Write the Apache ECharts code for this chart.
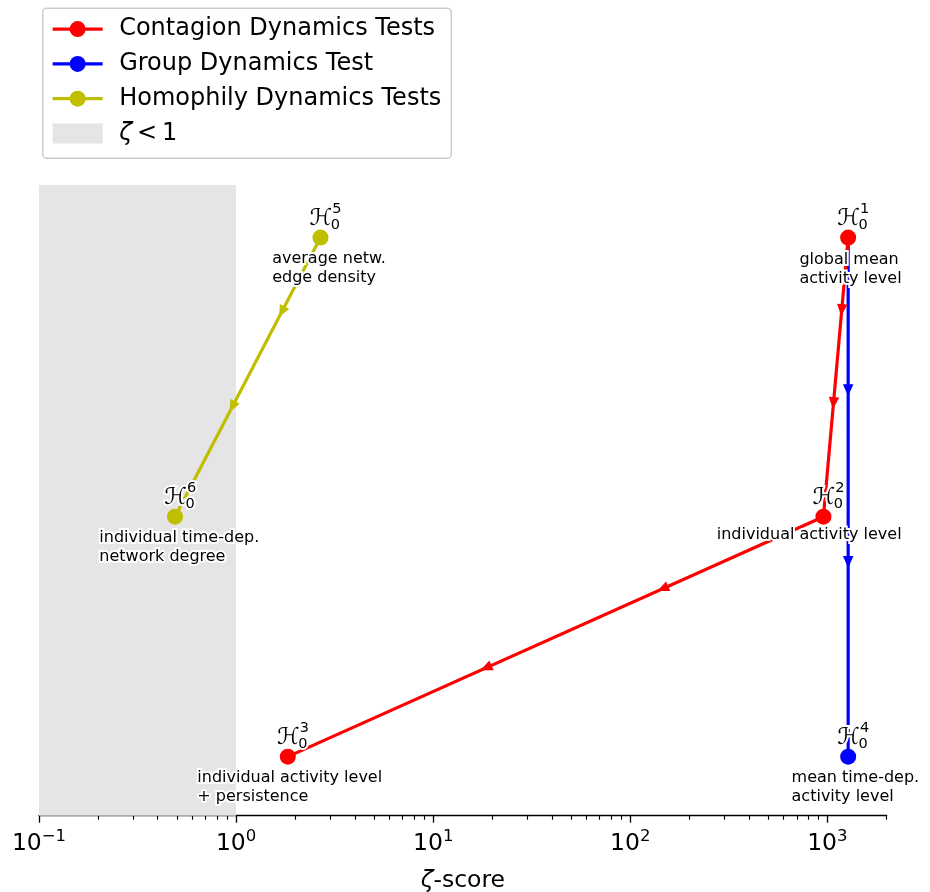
<!DOCTYPE html>
<html><head><meta charset="utf-8">
<script src="https://cdn.jsdelivr.net/npm/echarts@6/dist/echarts.min.js"></script>
<style>html,body{margin:0;padding:0;background:#fff}#c{width:930px;height:892px}</style>
</head><body><div id="c"></div>
<script>
// ---------------- data ----------------
const hypothesisNumbers = [1, 2, 3, 4, 5, 6];
const zetaScores = [1275, 955, 1.83, 1275, 2.68, 0.49];
const levels = [2.163, 1.0, 0.0, 0.0, 2.163, 1.0];
const descriptions = [
  'global mean\nactivity level',
  'individual activity level',
  'individual activity level\n+ persistence',
  'mean time-dep.\nactivity level',
  'average netw.\nedge density',
  'individual time-dep.\nnetwork degree'
];
const contagionPath = [0, 1, 2];
const groupPath = [0, 3];
const homophilyPath = [4, 5];
const seriesNames = ['Contagion Dynamics Tests', 'Group Dynamics Test', 'Homophily Dynamics Tests'];
const thresholdName = 'ζ < 1';
const thresholdRange = [0.1, 1];
const xRange = [0.1, 2000];
const majorTickValues = [0.1, 1, 10, 100, 1000];
const minorTickValues = [0.2, 0.3, 0.4, 0.5, 0.6, 0.7, 0.8, 0.9,
  2, 3, 4, 5, 6, 7, 8, 9, 20, 30, 40, 50, 60, 70, 80, 90,
  200, 300, 400, 500, 600, 700, 800, 900, 2000];

// ---------------- layout / style ----------------
const COLORS = ['#ff0000', '#0000ff', '#bfbf00'];
const SHADE = '#e5e5e5';
const FONT = 'DejaVu Sans';
const pointColorIdx = [0, 0, 0, 1, 2, 2];
// description label offsets (px) from point: [left, first-line centre]
const descOffsets = [[-48.7, 22.5], [-106.7, 18.3], [-90.5, 21.6], [-56.6, 21.6], [-48.3, 21.7], [-75.7, 21.6]];
// arrow positions as fraction along each segment of each path
const arrowFractions = [[[0.26, 0.593], [0.30, 0.63]], [[0.294, 0.625]], [[0.266, 0.606]]];
const paths = [contagionPath, groupPath, homophilyPath];

// ---------------- build ----------------
const arrowData = [];
paths.forEach((path, pi) => {
  for (let s = 0; s < path.length - 1; s++) {
    const a = path[s], b = path[s + 1];
    arrowFractions[pi][s].forEach(t => {
      arrowData.push([zetaScores[a], levels[a], zetaScores[b], levels[b], t, pi]);
    });
  }
});
const labelData = hypothesisNumbers.map((n, i) => [zetaScores[i], levels[i], i]);

function lineSeries(pi, z) {
  const path = paths[pi];
  return {
    name: seriesNames[pi], type: 'line', z: z,
    data: path.map((i, k) => {
      const item = { value: [zetaScores[i], levels[i]] };
      if (pointColorIdx[i] !== pi) item.symbol = 'none';
      return item;
    }),
    symbol: 'circle', symbolSize: 16, showSymbol: true,
    lineStyle: { width: 3.2, color: COLORS[pi] },
    itemStyle: { color: COLORS[pi] },
    emphasis: { disabled: true }, silent: true, clip: false
  };
}

const haloStyle = { stroke: '#fff', lineWidth: 4, fill: '#000' };

const option = {
  animation: false,
  grid: { left: 39, right: 43.3, top: 185, bottom: 76.3, outerBoundsMode: 'none', containLabel: false },
  legend: {
    orient: 'vertical', left: 42.7, top: 8.3, padding: [8.8, 10, 12.7, 8.3],
    itemWidth: 50, itemHeight: 20, itemGap: 10.8,
    borderColor: '#cccccc', borderWidth: 1.5, borderRadius: 4,
    backgroundColor: 'rgba(255,255,255,0.8)',
    selectedMode: false,
    lineStyle: { width: 3.3 },
    textStyle: { fontFamily: FONT, fontSize: 24, color: '#000', padding: [0, 0, 0, 11.5],
      rich: { i: { fontFamily: FONT, fontSize: 24, fontStyle: 'italic', color: '#000' } } },
    data: seriesNames.concat([{ name: thresholdName, icon: 'rect', itemStyle: { color: SHADE, borderWidth: 0 } }]),
    formatter: n => n === thresholdName ? '{i|ζ}\u2009<\u20091' : n
  },
  xAxis: [{
    type: 'log', logBase: 10, min: xRange[0], max: xRange[1], position: 'bottom',
    name: '{i|ζ}-score', nameLocation: 'middle', nameGap: 53,
    nameTextStyle: { fontFamily: FONT, fontSize: 23.5, color: '#000',
      rich: { i: { fontFamily: FONT, fontSize: 23.5, fontStyle: 'italic', color: '#000' } } },
    axisLine: { show: true, onZero: false, lineStyle: { color: '#000', width: 1.3 } },
    axisTick: { show: true, length: 7, lineStyle: { color: '#000', width: 1.3 }, customValues: majorTickValues },
    axisLabel: {
      customValues: majorTickValues, margin: 13, color: '#000',
      formatter: v => {
        const e = Math.round(Math.log10(v));
        return '{b|10}{s|' + (e < 0 ? '\u2212' + (-e) : e) + '}';
      },
      rich: {
        b: { fontFamily: FONT, fontSize: 23.5, lineHeight: 30, color: '#000' },
        s: { fontFamily: FONT, fontSize: 16.5, lineHeight: 16.5, verticalAlign: 'top', color: '#000' }
      }
    },
    splitLine: { show: false }, minorTick: { show: false }
  }, {
    type: 'log', logBase: 10, min: xRange[0], max: xRange[1], position: 'bottom',
    axisLine: { show: false, onZero: false },
    axisTick: { show: true, length: 4, lineStyle: { color: '#000', width: 1.1 }, customValues: minorTickValues },
    axisLabel: { show: false }, splitLine: { show: false }
  }],
  yAxis: { type: 'value', min: -0.246, max: 2.382, show: false },
  series: [
    {
      name: thresholdName, type: 'line', data: [], z: 0, silent: true,
      itemStyle: { color: SHADE },
      markArea: { silent: true, itemStyle: { color: SHADE }, data: [[{ xAxis: thresholdRange[0] }, { xAxis: thresholdRange[1] }]] }
    },
    lineSeries(1, 2),
    lineSeries(2, 2),
    lineSeries(0, 3),
    {
      type: 'custom', z: 4, silent: true, clip: false,
      data: arrowData, encode: { x: [0, 2], y: [1, 3] },
      renderItem: (params, api) => {
        const p1 = api.coord([api.value(0), api.value(1)]);
        const p2 = api.coord([api.value(2), api.value(3)]);
        const t = api.value(4);
        const col = COLORS[api.value(5)];
        const cx = p1[0] + (p2[0] - p1[0]) * t, cy = p1[1] + (p2[1] - p1[1]) * t;
        const ang = Math.atan2(p2[1] - p1[1], p2[0] - p1[0]);
        const ux = Math.cos(ang), uy = Math.sin(ang), nx = -uy, ny = ux;
        const L = 12, W = 10.5;
        return {
          type: 'polygon',
          shape: { points: [
            [cx + ux * L / 2, cy + uy * L / 2],
            [cx - ux * L / 2 + nx * W / 2, cy - uy * L / 2 + ny * W / 2],
            [cx - ux * L / 2 - nx * W / 2, cy - uy * L / 2 - ny * W / 2]
          ] },
          style: { fill: col }
        };
      }
    },
    {
      type: 'custom', z: 10, silent: true, clip: false,
      data: labelData, encode: { x: 0, y: 1 },
      renderItem: (params, api) => {
        const p = api.coord([api.value(0), api.value(1)]);
        const i = api.value(2);
        const off = descOffsets[i];
        return {
          type: 'group',
          children: [
            { type: 'text', style: Object.assign({ text: 'ℋ', x: p[0] + 0.5, y: p[1] - 19, font: '23px "DejaVu Sans"', align: 'center', verticalAlign: 'middle' }, haloStyle) },
            { type: 'text', style: Object.assign({ text: '0', x: p[0] + 15, y: p[1] - 12, font: '14.5px "DejaVu Sans"', align: 'center', verticalAlign: 'middle' }, haloStyle) },
            { type: 'text', style: Object.assign({ text: String(hypothesisNumbers[i]), x: p[0] + 16.5, y: p[1] - 28, font: '14.5px "DejaVu Sans"', align: 'center', verticalAlign: 'middle' }, haloStyle) },
            { type: 'text', style: Object.assign({ text: descriptions[i], x: p[0] + off[0], y: p[1] + off[1] - 9.25, font: '16px "DejaVu Sans"', lineHeight: 18.5, align: 'left', verticalAlign: 'top' }, haloStyle) }
          ]
        };
      }
    }
  ]
};
const chart = echarts.init(document.getElementById('c'), null, { renderer: 'canvas' });
chart.setOption(option);
</script>
</body></html>
